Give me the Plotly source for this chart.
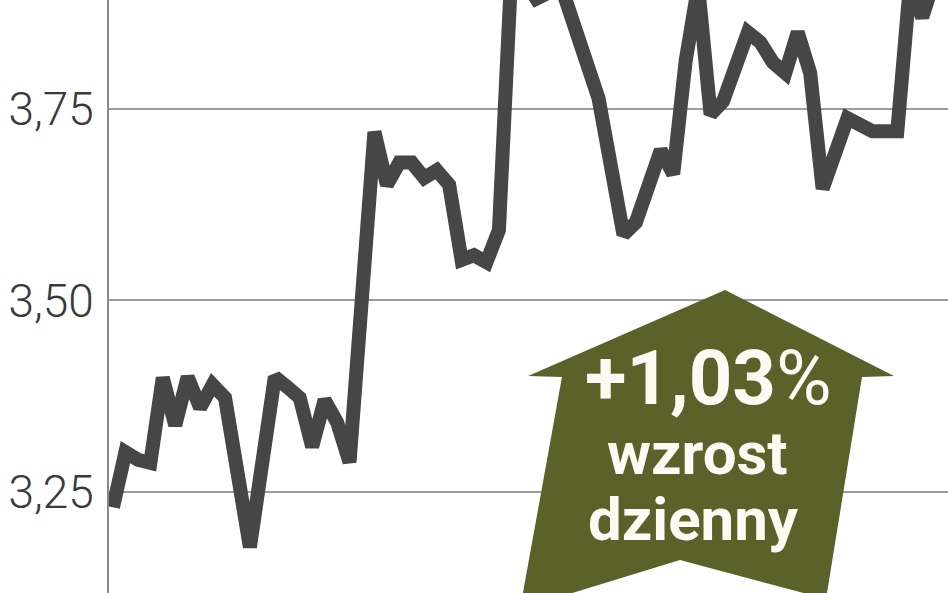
import plotly.graph_objects as go

# session number (trading day) and closing price
days = [0, 1, 2, 3, 4, 5, 6, 7, 8, 9, 11, 13, 14, 15, 16, 17, 18, 19, 21, 22,
        23, 24, 25, 26, 27, 28, 29, 30, 31, 32, 33, 34, 36, 38, 39, 41, 42, 44,
        45, 46, 47, 48, 49, 51, 52, 53, 54, 55, 56, 57, 59, 61, 63, 64, 65, 66, 67]
prices = [3.230, 3.302, 3.292, 3.288, 3.399, 3.337, 3.400, 3.360, 3.390, 3.373,
          3.178, 3.400, 3.387, 3.373, 3.309, 3.370, 3.341, 3.289, 3.720, 3.651,
          3.680, 3.680, 3.660, 3.670, 3.651, 3.553, 3.559, 3.550, 3.592, 3.930,
          3.920, 3.894, 3.910, 3.820, 3.764, 3.586, 3.602, 3.696, 3.665, 3.813,
          3.910, 3.743, 3.760, 3.850, 3.837, 3.811, 3.797, 3.850, 3.797, 3.646,
          3.738, 3.721, 3.721, 3.910, 3.870, 3.920, 3.930]

tick_vals = [3.25, 3.50, 3.75]
tick_labels = ["3,25", "3,50", "3,75"]

change_label = "+1,03"
badge_lines = ["wzrost", "dzienny"]

W, H = 948, 593
LEFT = 109               # axis line position
OLIVE = "#5a6129"


def px(x, y):
    """pixel position -> paper coords of the plot area"""
    return (x - LEFT) / (W - LEFT), (H - y) / H


# arrow badge outline, in pixels
arrow_px = [(725, 290), (894, 376), (862, 377), (826, 599), (680, 560),
            (520, 609), (562, 377), (528, 376)]
arrow_path = "M " + " L ".join("%.4f,%.4f" % px(x, y) for x, y in arrow_px) + " Z"

fig = go.Figure()
fig.add_trace(go.Scatter(
    x=days, y=prices, mode="lines",
    line=dict(color="#464646", width=14),
    hoverinfo="skip", showlegend=False,
))

fig.add_shape(type="path", path=arrow_path, xref="paper", yref="paper",
              fillcolor=OLIVE, line=dict(width=0), layer="above")

text_font = dict(family="Roboto", color="#fbfbf3", weight=700)
bx, by = px(708, 378)
fig.add_annotation(
    x=bx, y=by, xref="paper", yref="paper", xanchor="center", yanchor="middle",
    text=change_label + "<span style='font-weight:400'>%</span>",
    showarrow=False, font=dict(text_font, size=76),
)
for line_text, (cx, cy) in zip(badge_lines, [(697, 453), (693, 519)]):
    ax, ay = px(cx, cy)
    fig.add_annotation(
        x=ax, y=ay, xref="paper", yref="paper", xanchor="center", yanchor="middle",
        text=line_text, showarrow=False, font=dict(text_font, size=60),
    )

fig.update_layout(
    width=W, height=H,
    margin=dict(l=LEFT, r=0, t=0, b=0, pad=0, autoexpand=False),
    paper_bgcolor="white", plot_bgcolor="white",
    xaxis=dict(range=[-0.32, 67.07], visible=False, automargin=False),
    yaxis=dict(
        range=[3.1181, 3.8923], automargin=False,
        tickvals=tick_vals, ticktext=tick_labels,
        ticks="", ticklabelstandoff=4,
        tickfont=dict(family="Roboto", size=46, color="#3a3a3a", weight=300),
        showgrid=True, gridcolor="#9c9c9c", gridwidth=2,
        showline=True, linecolor="#8a8a8a", linewidth=2,
        zeroline=False,
    ),
)

# drop the default 8px body margin so the figure sits at the page corner
fig.write_html("out.html", config={"displayModeBar": False},
               post_script="document.body.style.margin = '0';")
